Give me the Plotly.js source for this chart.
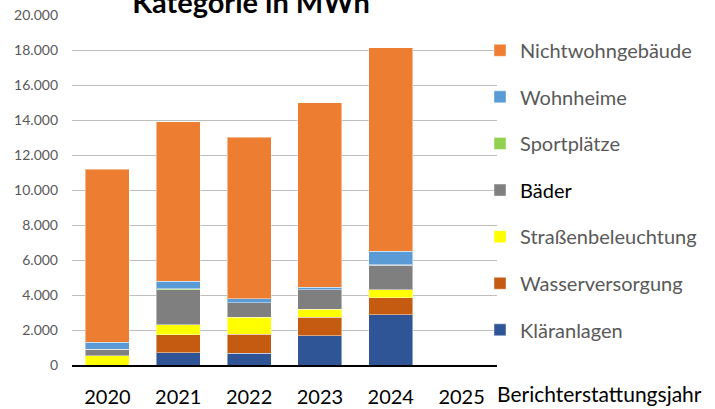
<!DOCTYPE html>
<html>
<head>
<meta charset="utf-8">
<script src="https://cdn.plot.ly/plotly-3.0.1.min.js"></script>
<style>
html,body{margin:0;padding:0;background:#fff;}
#chart{width:715px;height:409px;}
</style>
</head>
<body>
<div id="chart"></div>
<script>
const years = ['2020', '2021', '2022', '2023', '2024', '2025'];
const klaeranlagen      = [0,    690,  670,  1660, 2860, null];
const wasserversorgung  = [0,    1050, 1090, 1070, 980,  null];
const strassenbeleuchtung = [530, 550, 970,  460,  450,  null];
const baeder            = [360,  2020, 820,  1100, 1410, null];
const sportplaetze      = [0,    40,   0,    0,    40,   null];
const wohnheime         = [420,  440,  250,  140,  760,  null];
const nichtwohngebaeude = [9870, 9100, 9220, 10570, 11620, null];

const seriesNames = ['Kläranlagen', 'Wasserversorgung', 'Straßenbeleuchtung', 'Bäder', 'Sportplätze', 'Wohnheime', 'Nichtwohngebäude'];
const seriesValues = [klaeranlagen, wasserversorgung, strassenbeleuchtung, baeder, sportplaetze, wohnheime, nichtwohngebaeude];
const seriesColors = ['#2F5597', '#C55A11', '#FFFF00', '#7F7F7F', '#92D050', '#5B9BD5', '#ED7D31'];

const FONT = 'Lato, "Liberation Sans", sans-serif';

const traces = seriesNames.map((n, i) => ({
  type: 'bar',
  x: years,
  y: seriesValues[i],
  name: n === 'Bäder' ? '<span style="color:#000000">Bäder</span>' : n,
  legendgroup: 'g' + i,
  legendrank: seriesNames.length - i,
  marker: {color: seriesColors[i], line: {color: 'rgba(255,255,255,0.45)', width: 1}},
  hoverinfo: 'x+y+name'
}));

const layout = {
  width: 715, height: 409,
  margin: {l: 72, r: 218, t: 15, b: 44, pad: 0},
  paper_bgcolor: '#ffffff', plot_bgcolor: '#ffffff',
  barmode: 'stack',
  bargap: 0.38,
  separators: ',.',
  font: {family: FONT, color: '#595959'},
  title: {
    text: '<b>Kategorie in MWh</b>',
    font: {family: FONT, size: 29, color: '#000000'},
    x: 251 / 715, xref: 'container', xanchor: 'center',
    y: 1 - 13 / 409, yref: 'container', yanchor: 'bottom'
  },
  xaxis: {
    type: 'category',
    showline: true, linecolor: '#000000', linewidth: 2,
    ticks: '', showgrid: false,
    tickfont: {family: FONT, size: 20, color: '#000000'},
    ticklabelstandoff: 13,
    fixedrange: true
  },
  yaxis: {
    range: [0, 20000],
    tickvals: [0, 2000, 4000, 6000, 8000, 10000, 12000, 14000, 16000, 18000, 20000],
    tickformat: ',d',
    showgrid: true, gridcolor: '#BFBFBF', gridwidth: 1,
    zeroline: false, showline: false, ticks: '',
    tickfont: {family: FONT, size: 14, color: '#595959'},
    ticklabelstandoff: 13,
    fixedrange: true
  },
  legend: {
    x: 0.96, xanchor: 'left',
    y: 0.955, yanchor: 'top',
    traceorder: 'grouped',
    tracegroupgap: 17.6,
    font: {family: FONT, size: 20, color: '#595959'},
    bgcolor: 'rgba(0,0,0,0)'
  },
  annotations: [{
    text: 'Berichterstattungsjahr',
    xref: 'paper', yref: 'paper',
    x: 1, xanchor: 'left', xshift: -2,
    y: 0, yanchor: 'top', yshift: -14,
    showarrow: false,
    font: {family: FONT, size: 21, color: '#000000'}
  }],
  showlegend: true
};

Plotly.newPlot('chart', traces, layout, {displayModeBar: false, staticPlot: true});
</script>
</body>
</html>
